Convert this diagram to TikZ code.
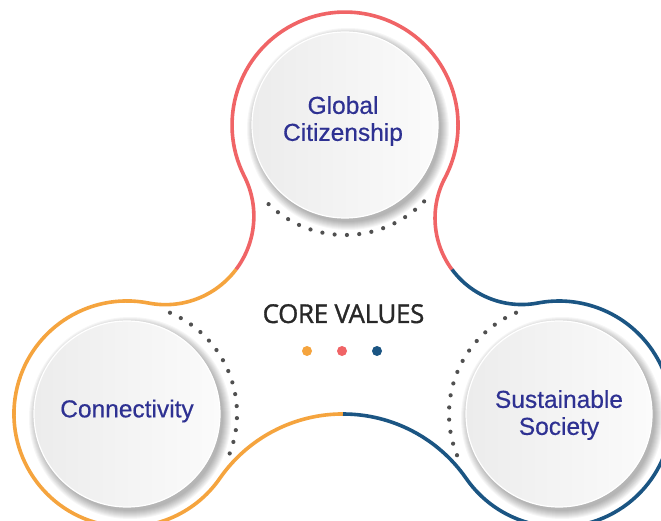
\documentclass[tikz,border=0pt]{standalone}
\usepackage{fontspec}
\setmainfont{Liberation Sans}
\newfontfamily\lblfont{Liberation Sans}[FakeBold=0.5]
\newfontfamily\corefont{Open Sans}[FakeBold=1.2, LetterSpace=-1.5]
\usetikzlibrary{calc}
\definecolor{cred}{RGB}{240,100,102}
\definecolor{corange}{RGB}{245,164,62}
\definecolor{cblue}{RGB}{27,85,131}
\definecolor{ctext}{RGB}{46,49,146}
\definecolor{cdot}{RGB}{80,80,80}
\definecolor{cfillL}{RGB}{236,236,236}
\definecolor{cfillR}{RGB}{251,251,251}
\definecolor{ccore}{RGB}{40,40,40}
\begin{document}
\begin{tikzpicture}[x=1pt,y=1pt,
  ring/.style={line width=3.6pt, line cap=butt},
  disc/.style={circle, minimum size=186pt, inner sep=0pt, left color=cfillL, right color=cfillR, draw=white, line width=1.2pt},
  lbl/.style={text=ctext, font=\lblfont\fontsize{24.5}{27}\selectfont, align=center},
  shade/.style={fill=black, opacity=0.035},
  ddot/.style={fill=cdot}]
\useasboundingbox (0,0) rectangle (661,520);
\clip (0,0) rectangle (661,520);
\fill[white] (0,0) rectangle (661,520);
\coordinate (T) at (345,395);
\coordinate (L) at (127,106);
\coordinate (R) at (559,106);
\coordinate (C1) at (165.4,303.8);
\coordinate (C2) at (521.6,302.0);
\coordinate (C3) at (343,-43.94);
% shadows
\foreach \c in {T,L,R}{
  \foreach \k in {0,...,8}{
    \fill[shade] ($(\c)+(3,-4)$) circle ({93+\k});
  }
}
% discs
\node[disc] (gc) at (T) {};
\node[disc] (cn) at (L) {};
\node[disc] (ss) at (R) {};
% outline rings
\draw[ring, cred] ($(C1)+(323:88.46)$) arc[start angle=323, end angle=386.9, radius=88.46]
  arc[start angle=206.9, end angle=-27.8, radius=113]
  arc[start angle=152.2, end angle=216.5, radius=86.55];
\draw[ring, corange] ($(C1)+(323:88.46)$) arc[start angle=323, end angle=259, radius=88.46]
  arc[start angle=79, end angle=325.23, radius=113]
  arc[start angle=145.23, end angle=90, radius=149.94];
\draw[ring, cblue] ($(C3)+(90:149.94)$) arc[start angle=90, end angle=34.77, radius=149.94]
  arc[start angle=214.77, end angle=460.8, radius=113]
  arc[start angle=280.8, end angle=216.5, radius=86.55];
% dotted arcs
\foreach \a in {0,...,14}{
  \fill[ddot] ($(T)+({226+\a*90/14}:110)$) circle (2.1);
  \fill[ddot] ($(L)+({-21+\a*88/14}:110)$) circle (2.1);
  \fill[ddot] ($(R)+({113+\a*89/14}:110)$) circle (2.1);
}
% labels
\node[lbl] (gct) at ($(gc)+(-2,4)$) {Global\\Citizenship};
\node[lbl] (cnt) at ($(cn)+(0,3)$) {Connectivity};
\node[lbl] (sst) at ($(ss)+(0,-1)$) {Sustainable\\Society};
% core values
\node[anchor=base, text=ccore, font=\corefont\fontsize{26}{30}\selectfont, inner sep=0pt] (core) at (343.5,197) {CORE VALUES};
\fill[corange] (307,169) circle (5) coordinate (d1);
\fill[cred] (342,169) circle (5) coordinate (d2);
\fill[cblue] (377,169) circle (5) coordinate (d3);
\end{tikzpicture}
\end{document}
